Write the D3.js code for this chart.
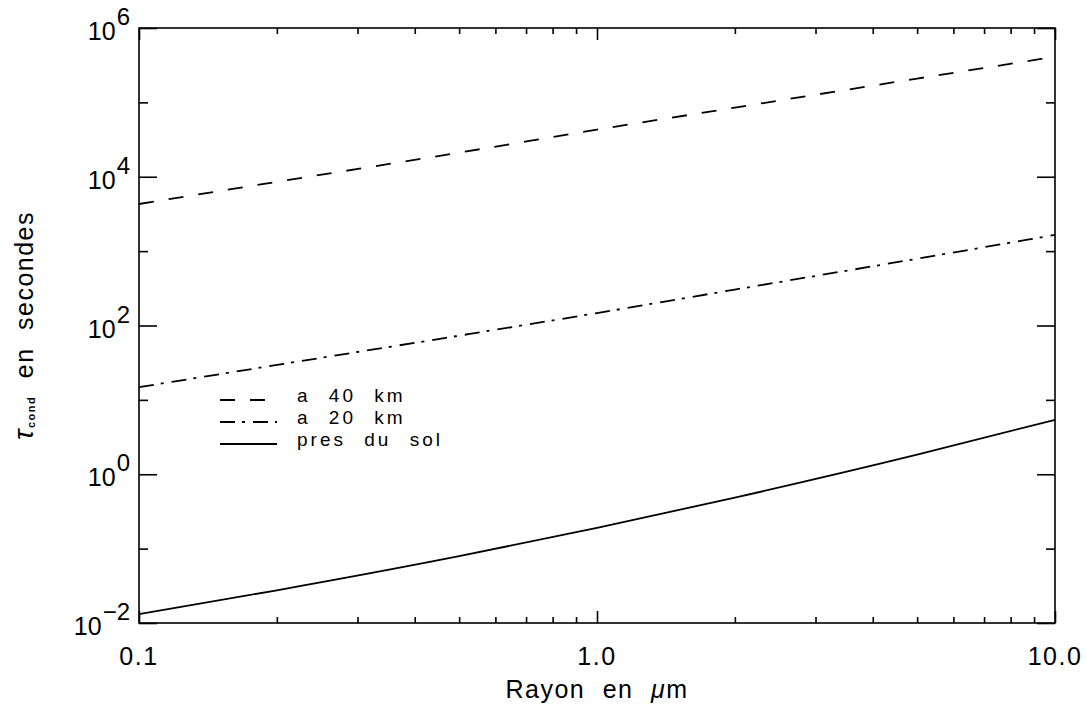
<!DOCTYPE html>
<html>
<head>
<meta charset="utf-8">
<script src="https://cdn.jsdelivr.net/npm/d3@7"></script>
<style>
  html, body { margin: 0; padding: 0; background: #fff; }
  svg { display: block; }
  text { font-family: "Liberation Sans", Arial, sans-serif; fill: #000; }
</style>
</head>
<body>
<svg id="chart" width="1086" height="705"></svg>
<script>
// ---- data ----
const radius   = [0.1, 0.2, 0.5, 1, 2, 5, 10];
const tau40km  = [4300, 8550, 21100, 43000, 85000, 209000, 410000];
const tau20km  = [14.8, 29.5, 73, 147, 304, 790, 1650];
const tauSol   = [0.0132, 0.0275, 0.079, 0.19, 0.485, 1.83, 5.4];
const legendLabels = ["a 40 km", "a 20 km", "pres du sol"];

const xMajorTicks = [0.1, 1, 10];
const xTickLabels = ["0.1", "1.0", "10.0"];
const xMinorTicks = [0.2,0.3,0.4,0.5,0.6,0.7,0.8,0.9,2,3,4,5,6,7,8,9];
const yMajorExp = [-2, 0, 2, 4, 6];
const yMinorExp = [-1, 1, 3, 5];

// ---- layout ----
const L = 139, R = 1055, T = 28, B = 623;
const svg = d3.select("#chart");
const x = d3.scaleLog().domain([0.1, 10]).range([L, R]);
const y = d3.scaleLog().domain([1e-2, 1e6]).range([B, T]);

const yMajorTicks = yMajorExp.map(e => Math.pow(10, e));
const yMinorTicks = yMinorExp.map(e => Math.pow(10, e));

const axisStroke = 1.6;
function styleAxis(g) {
  g.select(".domain").remove();
  g.selectAll("line").attr("stroke", "#000").attr("stroke-width", axisStroke);
  g.selectAll("text").remove();
}
// bottom / top
svg.append("g").attr("transform", `translate(0,${B})`)
  .call(d3.axisTop(x).tickValues(xMajorTicks).tickSize(12).tickFormat("")).call(styleAxis);
svg.append("g").attr("transform", `translate(0,${B})`)
  .call(d3.axisTop(x).tickValues(xMinorTicks).tickSize(6).tickFormat("")).call(styleAxis);
svg.append("g").attr("transform", `translate(0,${T})`)
  .call(d3.axisBottom(x).tickValues(xMajorTicks).tickSize(12).tickFormat("")).call(styleAxis);
svg.append("g").attr("transform", `translate(0,${T})`)
  .call(d3.axisBottom(x).tickValues(xMinorTicks).tickSize(6).tickFormat("")).call(styleAxis);
// left / right
svg.append("g").attr("transform", `translate(${L},0)`)
  .call(d3.axisRight(y).tickValues(yMajorTicks).tickSize(18).tickFormat("")).call(styleAxis);
svg.append("g").attr("transform", `translate(${L},0)`)
  .call(d3.axisRight(y).tickValues(yMinorTicks).tickSize(9).tickFormat("")).call(styleAxis);
svg.append("g").attr("transform", `translate(${R},0)`)
  .call(d3.axisLeft(y).tickValues(yMajorTicks).tickSize(18).tickFormat("")).call(styleAxis);
svg.append("g").attr("transform", `translate(${R},0)`)
  .call(d3.axisLeft(y).tickValues(yMinorTicks).tickSize(9).tickFormat("")).call(styleAxis);

// frame
svg.append("rect").attr("x", L).attr("y", T).attr("width", R - L).attr("height", B - T)
  .attr("fill", "none").attr("stroke", "#000").attr("stroke-width", axisStroke);

// x tick labels
svg.append("g").selectAll("text").data(xMajorTicks).join("text")
  .attr("x", d => x(d)).attr("y", B + 42)
  .attr("text-anchor", "middle").attr("font-size", 25).attr("letter-spacing", 1.5)
  .text((d, i) => xTickLabels[i]);

// y tick labels 10^n
const yl = svg.append("g").selectAll("text").data(yMajorExp).join("text")
  .attr("x", L - 9).attr("y", d => y(Math.pow(10, d)) + 12)
  .attr("text-anchor", "end").attr("font-size", 25);
yl.append("tspan").text("10");
yl.append("tspan").attr("dy", -15).attr("dx", 1).attr("font-size", 24)
  .text(d => d < 0 ? "\u2212" + (-d) : String(d));

// axis titles
const xt = svg.append("text").attr("x", (L + R) / 2).attr("y", 698)
  .attr("text-anchor", "middle").attr("font-size", 25)
  .attr("letter-spacing", 1.5).attr("word-spacing", 9);
xt.append("tspan").text("Rayon en ");
xt.append("tspan").attr("font-style", "italic").text("\u03bc");
xt.append("tspan").text("m");

const yt = svg.append("text").attr("transform", `translate(33,${(T + B) / 2}) rotate(-90)`)
  .attr("text-anchor", "middle").attr("font-size", 25)
  .attr("letter-spacing", 1.5).attr("word-spacing", 9);
yt.append("tspan").attr("font-style", "italic").attr("font-size", 28).text("\u03c4");
yt.append("tspan").attr("font-size", 11).attr("font-weight", "bold").attr("dy", 2).text("cond");
yt.append("tspan").attr("dy", -2).text(" en secondes");

// curves
const line = d3.line().x(d => x(d[0])).y(d => y(d[1])).curve(d3.curveMonotoneX);
const series = [
  { vals: tau40km, dash: "15,15" },
  { vals: tau20km, dash: "15,7,3,8" },
  { vals: tauSol,  dash: null }
];
const plot = svg.append("g");
series.forEach(s => {
  plot.append("path").datum(radius.map((r, i) => [r, s.vals[i]]))
    .attr("d", line).attr("fill", "none").attr("stroke", "#000")
    .attr("stroke-width", 1.8).attr("stroke-dasharray", s.dash);
});

// legend
const lg = svg.append("g");
series.forEach((s, i) => {
  const yy = 400 + i * 22;
  lg.append("line").attr("x1", 220).attr("x2", 277).attr("y1", yy).attr("y2", yy)
    .attr("stroke", "#000").attr("stroke-width", 1.8).attr("stroke-dasharray", s.dash);
  lg.append("text").attr("x", 297).attr("y", yy + 2).attr("font-size", 19)
    .attr("letter-spacing", 3).attr("word-spacing", 10).text(legendLabels[i]);
});
</script>
</body>
</html>
